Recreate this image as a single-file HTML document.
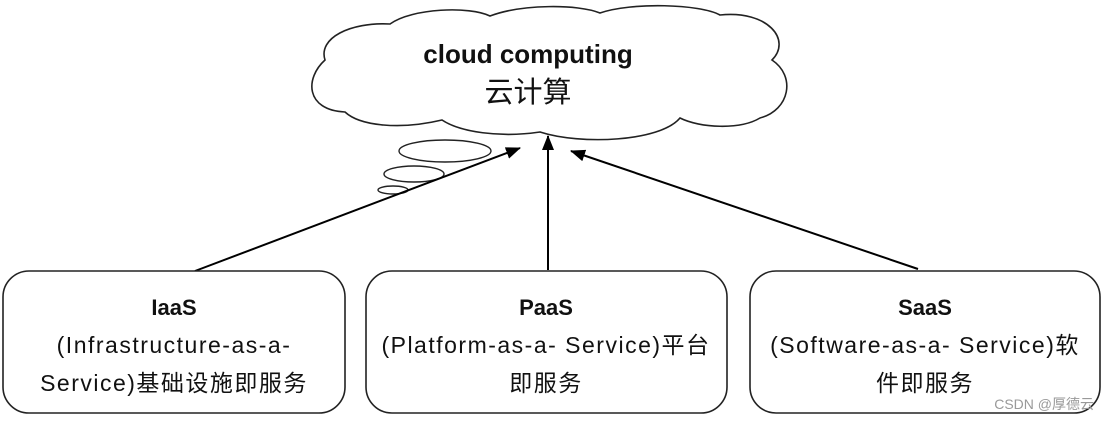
<!DOCTYPE html>
<html><head><meta charset="utf-8"><style>
html,body{margin:0;padding:0;background:#fff;}
body{width:1106px;height:419px;overflow:hidden;}
text{font-family:"Liberation Sans","Noto Sans CJK SC",sans-serif;fill:#111;}
</style></head><body>
<svg width="1106" height="419" viewBox="0 0 1106 419" xmlns="http://www.w3.org/2000/svg">
<defs><marker id="ah" markerWidth="15" markerHeight="12" refX="14" refY="6" orient="auto" markerUnits="userSpaceOnUse"><path d="M0,0 L15,6 L0,12 Z" fill="#000"/></marker></defs>
<path d="M345,112 C305,110 305,78 325,60 C318,38 350,22 390,24 C412,8 470,6 490,16 C522,4 578,4 600,13 C632,2 700,4 720,15 C768,10 792,40 772,60 C796,76 790,110 760,118 C740,130 700,128 680,118 C660,142 580,145 540,132 C500,138 460,132 442,120 C400,130 360,126 345,112 Z" fill="#fff" stroke="#222" stroke-width="1.6"/>
<text x="528" y="63" font-size="26" font-weight="bold" text-anchor="middle">cloud computing</text>
<text x="528" y="102" font-size="29" text-anchor="middle" fill="#222">云计算</text>
<ellipse cx="445" cy="151" rx="46" ry="11" fill="none" stroke="#222" stroke-width="1.4"/>
<ellipse cx="414" cy="174" rx="30" ry="8" fill="none" stroke="#222" stroke-width="1.4"/>
<ellipse cx="393" cy="190" rx="15" ry="4" fill="none" stroke="#222" stroke-width="1.4"/>
<line x1="195" y1="271" x2="520" y2="148" stroke="#000" stroke-width="2" marker-end="url(#ah)"/>
<line x1="548" y1="270" x2="548" y2="136" stroke="#000" stroke-width="2" marker-end="url(#ah)"/>
<line x1="918" y1="269" x2="571" y2="151" stroke="#000" stroke-width="2" marker-end="url(#ah)"/>
<rect x="3" y="271" width="342" height="142" rx="26" fill="#fff" stroke="#222" stroke-width="1.6"/>
<rect x="366" y="271" width="361" height="142" rx="26" fill="#fff" stroke="#222" stroke-width="1.6"/>
<rect x="750" y="271" width="350" height="142" rx="26" fill="#fff" stroke="#222" stroke-width="1.6"/>
<g font-size="23" text-anchor="middle" letter-spacing="1.5">
<text x="174" y="315" font-weight="bold" font-size="22" letter-spacing="0">IaaS</text>
<text x="174" y="353">(Infrastructure-as-a-</text>
<text x="174" y="391">Service)基础设施即服务</text>
<text x="546" y="315" font-weight="bold" font-size="22" letter-spacing="0">PaaS</text>
<text x="546" y="353">(Platform-as-a- Service)平台</text>
<text x="546" y="391">即服务</text>
<text x="925" y="315" font-weight="bold" font-size="22" letter-spacing="0">SaaS</text>
<text x="925" y="353">(Software-as-a- Service)软</text>
<text x="925" y="391">件即服务</text>
</g>
<text x="1094" y="409" font-size="14" text-anchor="end" style="fill:#999">CSDN @厚德云</text>
</svg>
</body></html>
